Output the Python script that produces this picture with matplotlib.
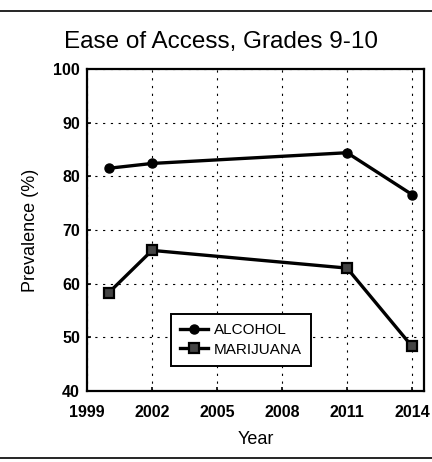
import numpy as np
import matplotlib
matplotlib.use('Agg')
import matplotlib.pyplot as plt
from matplotlib.lines import Line2D

#------------------------------------------------------------------------------
# DATA
#------------------------------------------------------------------------------

years = [2000, 2002, 2011, 2014]
alcohol = [81.5, 82.4, 84.4, 76.6]
marijuana = [58.3, 66.2, 62.9, 48.3]
xticks = [1999, 2002, 2005, 2008, 2011, 2014]
yticks = [40, 50, 60, 70, 80, 90, 100]

titlestr = 'Ease of Access, Grades 9-10'

#------------------------------------------------------------------------------
# PLOT
#------------------------------------------------------------------------------

plt.rcParams['font.family'] = ['Liberation Sans', 'DejaVu Sans']

fig = plt.figure(figsize=(4.32, 4.62), dpi=100)
ax = fig.add_axes([87/432, 1-391/462, (424-87)/432, (391-69)/462])

ax.plot(years, alcohol, color='black', lw=2.4, marker='o', ms=6.5,
        mfc='black', mec='black', label='ALCOHOL')
ax.plot(years, marijuana, color='black', lw=2.4, marker='s', ms=6.5,
        mfc='#444444', mec='black', mew=1.6, label='MARIJUANA')

ax.set_xlim(1999, 2014.55)
ax.set_ylim(40, 100)
ax.set_xticks(xticks)
ax.set_yticks(yticks)
ax.tick_params(labelsize=11.5, direction='in', length=3, width=1.2)
ax.tick_params(axis='x', pad=10)
ax.tick_params(axis='y', pad=5)
for lab in ax.get_xticklabels() + ax.get_yticklabels():
    lab.set_fontweight('bold')
ax.grid(True, which='major', color='black', linestyle=(0, (2, 5)), lw=0.8)
for s in ax.spines.values():
    s.set_linewidth(1.6)

ax.set_xlabel('Year', fontsize=13, labelpad=8)
ax.set_ylabel('Prevalence (%)', fontsize=13, labelpad=10)
fig.text(221/432, 1-42/462, titlestr, fontsize=17.5, ha='center', va='center')

leg = ax.legend(loc='upper left', bbox_to_anchor=((171-87)/337, (391-314)/322),
                borderaxespad=0.0,
                fontsize=11, handlelength=1.8, handletextpad=0.4,
                borderpad=0.6, labelspacing=0.35, fancybox=False,
                framealpha=1.0, edgecolor='black')
leg.get_frame().set_linewidth(1.4)

# scan border lines
fig.add_artist(Line2D([0, 1], [1-11/462, 1-11/462], color='black', lw=1.2))
fig.add_artist(Line2D([0, 1], [1-458/462, 1-458/462], color='black', lw=1.2))

plt.savefig('out.png', dpi=100)
plt.close(fig)
